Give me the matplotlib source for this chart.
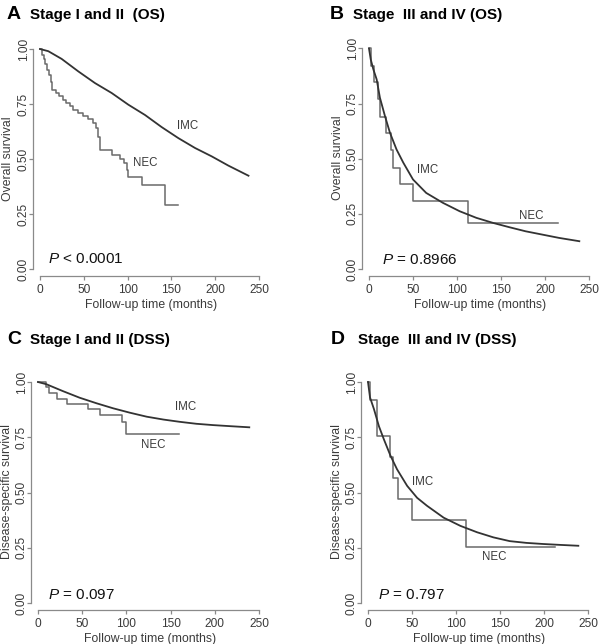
import matplotlib
matplotlib.use("Agg")
import matplotlib.pyplot as plt

plt.rcParams['font.family'] = ['Liberation Sans', 'DejaVu Sans']
plt.rcParams['mathtext.fontset'] = 'custom'
plt.rcParams['mathtext.it'] = 'Liberation Sans:italic'
plt.rcParams['mathtext.rm'] = 'Liberation Sans'

# ---- data (months, survival) ----
# A: stage I and II, overall survival
a_imc_t = [0, 9.5, 24.7, 43.8, 62.8, 81.8, 100.8, 119.9, 138.9, 157.9, 177, 196, 215, 238]
a_imc_s = [1.0, 0.99, 0.955, 0.898, 0.845, 0.80, 0.747, 0.70, 0.645, 0.595, 0.55, 0.512, 0.47, 0.424]
a_nec_t = [0, 2, 4, 6, 8, 10, 12, 14, 18, 22, 26, 30, 34, 38, 43, 49, 55, 60, 64, 66, 68,
           82, 91, 96, 99, 101, 116, 143, 158]
a_nec_s = [1.0, 0.975, 0.955, 0.93, 0.905, 0.88, 0.85, 0.815, 0.80, 0.785, 0.77, 0.755, 0.74,
           0.725, 0.71, 0.695, 0.68, 0.665, 0.64, 0.60, 0.54, 0.52, 0.50, 0.48, 0.45, 0.42,
           0.38, 0.29, 0.29]

# B: stage III and IV, overall survival
b_imc_t = [0, 2, 4.9, 8.7, 12.4, 18.1, 23.8, 31.3, 39, 50, 65, 84, 103, 122, 141, 160, 178, 197, 216, 239]
b_imc_s = [1.0, 0.95, 0.906, 0.86, 0.777, 0.694, 0.618, 0.542, 0.482, 0.406, 0.345, 0.30, 0.262,
           0.232, 0.209, 0.189, 0.171, 0.156, 0.141, 0.126]
b_nec_t = [0, 2, 6, 10, 13, 19, 25, 27, 35, 50, 112, 215]
b_nec_s = [1.0, 0.92, 0.85, 0.77, 0.69, 0.615, 0.54, 0.46, 0.385, 0.31, 0.21, 0.21]

# C: stage I and II, disease-specific survival
c_imc_t = [0, 9.4, 28, 47, 66, 85, 104, 123, 142, 160, 179, 198, 218, 239]
c_imc_s = [1.0, 0.99, 0.959, 0.929, 0.904, 0.881, 0.861, 0.843, 0.83, 0.82, 0.811, 0.805, 0.80, 0.795]
c_nec_t = [0, 9, 12, 22, 33, 57, 70, 95, 99, 159]
c_nec_s = [1.0, 0.976, 0.95, 0.925, 0.90, 0.877, 0.85, 0.82, 0.765, 0.765]

# D: stage III and IV, disease-specific survival
d_imc_t = [0, 2.3, 6.8, 12.4, 18.1, 25.6, 33, 44.5, 55.8, 67, 86, 105, 124, 142.5, 161, 180, 199, 218, 239]
d_imc_s = [1.0, 0.93, 0.877, 0.80, 0.74, 0.666, 0.605, 0.53, 0.476, 0.44, 0.386, 0.349, 0.32,
           0.297, 0.28, 0.272, 0.267, 0.263, 0.259]
d_nec_t = [0, 2, 10, 25, 28, 34, 50, 111, 213]
d_nec_s = [1.0, 0.92, 0.755, 0.66, 0.565, 0.47, 0.377, 0.252, 0.252]

letters = ['A', 'B', 'C', 'D']
titles = ['Stage I and II  (OS)', 'Stage  III and IV (OS)',
          'Stage I and II (DSS)', 'Stage  III and IV (DSS)']
ylabels = ['Overall survival', 'Overall survival',
           'Disease-specific survival', 'Disease-specific survival']
pvals = [r'$\mathit{P}$ < 0.0001', r'$\mathit{P}$ = 0.8966',
         r'$\mathit{P}$ = 0.097', r'$\mathit{P}$ = 0.797']
xticks = [0, 50, 100, 150, 200, 250]
yticks = [0, 0.25, 0.5, 0.75, 1.0]
ytick_labels = ['0.00', '0.25', '0.50', '0.75', '1.00']

curves = [(a_imc_t, a_imc_s, a_nec_t, a_nec_s),
          (b_imc_t, b_imc_s, b_nec_t, b_nec_s),
          (c_imc_t, c_imc_s, c_nec_t, c_nec_s),
          (d_imc_t, d_imc_s, d_nec_t, d_nec_s)]

# label anchors (month, survival)
imc_pos = [(156, 0.65), (54, 0.45), (155, 0.887), (50, 0.548)]
nec_pos = [(106, 0.48), (170, 0.24), (116, 0.713), (129, 0.208)]
p_pos = [(9, 0.045), (15, 0.042), (11, 0.035), (11, 0.038)]

# pixel geometry: x of month 0, x of month 250, y of 1.0, y of 0.0, y-label centre x
geom = [(40, 259, 49, 269, 8), (369, 589, 48.5, 269, 338),
        (38, 259, 382, 603, 7), (368, 588, 382, 603, 337)]
# title placement: letter x, text x, baseline y
title_px = [(7, 30, 18.7), (330, 353, 18.7), (7, 30, 343.7), (331, 358, 343.7)]

XMIN, XMAX = -7.5, 260
YMIN, YMAX = -0.033, 1.04

W, H = 600, 644
fig = plt.figure(figsize=(W / 100, H / 100), dpi=100)

axis_col = '#8a8a8a'
text_col = '#3a3a3a'

for i in range(4):
    x0, x250, y1, y0, ylab_x = geom[i]
    sx = (x250 - x0) / 250.0
    sy = (y0 - y1)
    left = x0 + XMIN * sx
    width = (XMAX - XMIN) * sx
    top = y1 - (YMAX - 1) * sy
    height = (YMAX - YMIN) * sy
    ax = fig.add_axes([left / W, (H - top - height) / H, width / W, height / H])
    ax.set_xlim(XMIN, XMAX)
    ax.set_ylim(YMIN, YMAX)

    it, iv, nt, nv = curves[i]
    ax.step(nt, nv, where='post', color='#6a6a6a', lw=1.1)
    ax.plot(it, iv, color='#333333', lw=1.3)

    for s in ['top', 'right']:
        ax.spines[s].set_visible(False)
    for s in ['left', 'bottom']:
        ax.spines[s].set_color(axis_col)
        ax.spines[s].set_linewidth(0.9)
    ax.spines['left'].set_bounds(0, 1)
    ax.spines['bottom'].set_bounds(0, 250)

    ax.set_xticks(xticks)
    ax.set_yticks(yticks)
    ax.set_yticklabels(ytick_labels, rotation=90, va='center')
    ax.tick_params(axis='both', direction='out', length=3, width=0.9,
                   color=axis_col, labelcolor=text_col, labelsize=8.6)
    ax.tick_params(axis='x', pad=2.5)
    ax.tick_params(axis='y', pad=-0.5)

    ax.set_xlabel('Follow-up time (months)', fontsize=8.8, color=text_col, va='center')
    ax.xaxis.set_label_coords(0.5, -28.5 / height)
    ax.set_ylabel(ylabels[i], fontsize=8.8, color=text_col, va='center')
    ax.yaxis.set_label_coords(-(left - ylab_x) / width, 0.5)

    ax.text(imc_pos[i][0], imc_pos[i][1], 'IMC', fontsize=8.3, color=text_col,
            ha='left', va='center')
    ax.text(nec_pos[i][0], nec_pos[i][1], 'NEC', fontsize=8.3, color=text_col,
            ha='left', va='center')
    ax.text(p_pos[i][0], p_pos[i][1], pvals[i], fontsize=11, color='#111111',
            ha='left', va='center')

    lx, tx, by = title_px[i]
    fig.text(lx / W, (H - by) / H, letters[i], fontsize=14, fontweight='bold',
             ha='left', va='baseline')
    fig.text(tx / W, (H - by) / H, titles[i], fontsize=11, fontweight='bold',
             ha='left', va='baseline')

fig.savefig('out.png', dpi=100, facecolor='white')
